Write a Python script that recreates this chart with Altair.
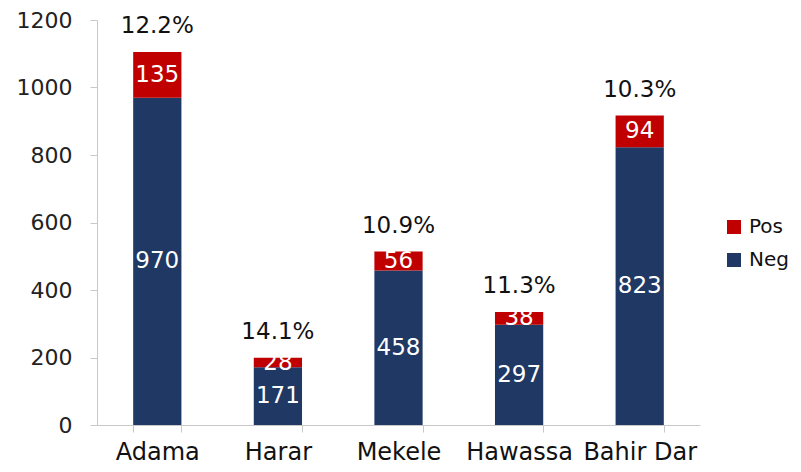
import altair as alt
import pandas as pd

cities = ["Adama", "Harar", "Mekele", "Hawassa", "Bahir Dar"]
neg = [970, 171, 458, 297, 823]
pos = [135, 28, 56, 38, 94]
pct_labels = ["12.2%", "14.1%", "10.9%", "11.3%", "10.3%"]

rows = []
for c, n, p in zip(cities, neg, pos):
    rows.append({"city": c, "series": "Neg", "value": n, "ord": 0})
    rows.append({"city": c, "series": "Pos", "value": p, "ord": 1})
df = pd.DataFrame(rows)
tot = pd.DataFrame({"city": cities, "total": [n + p for n, p in zip(neg, pos)], "pct": pct_labels})

FONT = "DejaVu Sans"
x_enc = alt.X("city:N", sort=cities, title=None,
              scale=alt.Scale(paddingInner=0.6, paddingOuter=0.3),
              axis=alt.Axis(labelAngle=0, labelFontSize=24, labelColor="#111", labelFont=FONT,
                            domainColor="#c8c8c8", tickColor="#c8c8c8", tickSize=7,
                            tickBand="extent", labelPadding=8))
y_scale = alt.Scale(domain=[0, 1200])

bars = alt.Chart(df).mark_bar().encode(
    x=x_enc,
    y=alt.Y("value:Q", stack="zero", scale=y_scale, title=None,
            axis=alt.Axis(values=list(range(0, 1201, 200)), format="d", grid=False, labelFontSize=22,
                          labelColor="#222", labelFont=FONT, domainColor="#c8c8c8",
                          tickColor="#c8c8c8", tickSize=7, labelPadding=18)),
    color=alt.Color("series:N", scale=alt.Scale(domain=["Pos", "Neg"], range=["#c00000", "#1f3864"]),
                    legend=alt.Legend(title=None, orient="none", legendX=627, legendY=197,
                                      symbolType="square", symbolSize=196, labelFontSize=20,
                                      labelFont=FONT, labelColor="#111", rowPadding=13,
                                      symbolStrokeWidth=0, padding=0, labelOffset=5)),
    order=alt.Order("ord:Q"),
)

seg_text = alt.Chart(df).transform_stack(
    stack="value", groupby=["city"], as_=["y0", "y1"], sort=[alt.SortField("ord")]
).transform_calculate(mid="(datum.y0 + datum.y1) / 2").mark_text(
    color="white", fontSize=23, font=FONT, baseline="middle"
).encode(x=alt.X("city:N", sort=cities), y=alt.Y("mid:Q", scale=y_scale), text="value:Q")

pct_text = alt.Chart(tot).mark_text(
    color="#111", fontSize=23, font=FONT, baseline="alphabetic", dy=-19
).encode(x=alt.X("city:N", sort=cities), y=alt.Y("total:Q", scale=y_scale), text="pct:N")

chart = alt.layer(bars, seg_text, pct_text).properties(
    width=603, height=405, autosize="none", background="white",
    padding={"left": 89, "top": 12, "right": 93, "bottom": 39},
).configure_view(stroke="transparent", strokeWidth=0)

chart.save("out.html", embed_options={"renderer": "svg", "actions": False})
